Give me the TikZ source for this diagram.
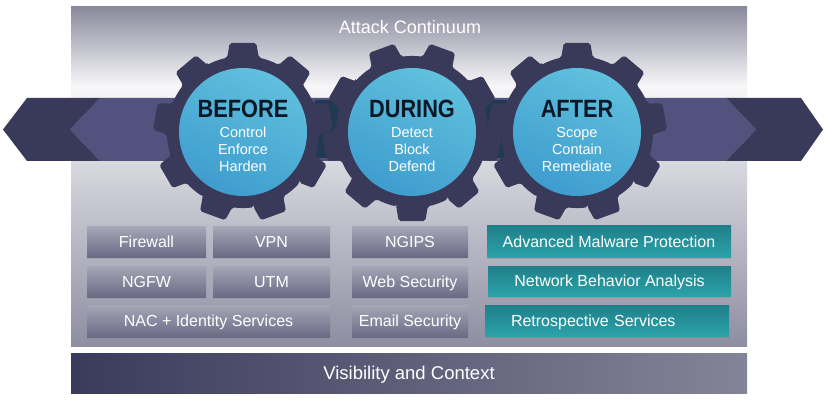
\documentclass[tikz,border=0pt]{standalone}
\usepackage{fontspec}
\setmainfont{Liberation Sans}
\usetikzlibrary{shadows}
\definecolor{gearcol}{HTML}{393959}
\definecolor{bandlight}{HTML}{52527F}
\definecolor{banddark}{HTML}{393959}
\definecolor{tealdark}{HTML}{1F3A52}
\definecolor{paneltop}{HTML}{8A8A9D}
\definecolor{panelwhite}{HTML}{F7F7F9}
\definecolor{panelmid}{HTML}{D2D2DA}
\definecolor{panelbot}{HTML}{8E8EA2}
\definecolor{circtop}{HTML}{60C0DD}
\definecolor{circbot}{HTML}{3E9DCE}
\definecolor{headtext}{HTML}{0C1826}
\definecolor{boxtop}{HTML}{A6A6B7}
\definecolor{boxbot}{HTML}{6A6A85}
\definecolor{tealtop}{HTML}{1F7F89}
\definecolor{tealbot}{HTML}{2CA2A9}
\definecolor{barL}{HTML}{3A3A5C}
\definecolor{barR}{HTML}{848498}
\newcommand\gearshape[3]{%
  \begin{scope}[shift={(#1)}, rotate=#2]
    \fill[gearcol, rounded corners=2pt] (78:76pt)
      \foreach \a in {90,130,...,410} {
        -- ({\a-12}:76pt) -- ({\a-8.5}:90pt) -- ({\a+8.5}:90pt) -- ({\a+12}:76pt)
        arc[start angle={\a+12}, end angle={\a+28}, radius=76pt]
      } -- cycle;
  \end{scope}
  \shade[top color=circtop, bottom color=circbot, shading angle=-25] (#1) circle[radius=64pt];
}
\begin{document}
\begin{tikzpicture}[x=1pt,y=-1pt,
  graybox/.style={top color=boxtop, bottom color=boxbot, text=white,
    font=\fontsize{16}{19}\selectfont, text height=11.5pt, text depth=0pt,
    inner sep=0pt, drop shadow={opacity=0.2, shadow xshift=0pt, shadow yshift=-1.5pt}},
  tealbox/.style={top color=tealtop, bottom color=tealbot, text=white,
    font=\fontsize{16}{19}\selectfont, text height=11.5pt, text depth=0pt,
    inner sep=0pt, minimum width=244pt, minimum height=31pt,
    drop shadow={opacity=0.3, shadow xshift=0pt, shadow yshift=-1.5pt}},
  headlbl/.style={anchor=base, text=headtext, font=\fontsize{25}{28}\bfseries\selectfont, xscale=0.87},
  sublbl/.style={anchor=base, text=white, font=\fontsize{14.5}{17}\selectfont},
]
\useasboundingbox (0,0) rectangle (828,401);
% panel background
\shade[top color=paneltop, bottom color=panelwhite] (71,7) rectangle (747,86);
\shade[top color=panelwhite, middle color=panelmid, bottom color=panelbot] (71,85.5) rectangle (747,346);
\node[text=white, anchor=base, font=\fontsize{18}{21}\selectfont] (title) at (410,34) {Attack Continuum};
% band
\fill[bandlight] (100,98) -- (726,98) -- (756,129.5) -- (726,161) -- (100,161) -- (70,129.5) -- cycle;
\fill[banddark] (27,98) -- (100,98) -- (70,129.5) -- (100,161) -- (27,161) -- (3,129.5) -- cycle;
\fill[banddark] (726,98) -- (801,98) -- (823,129.5) -- (801,161) -- (726,161) -- (756,129.5) -- cycle;
\fill[tealdark] (315,100) rectangle (340,158);
\fill[tealdark] (482,100) rectangle (507,158);
% gears
\coordinate (gb) at (243,132);
\coordinate (gd) at (412,132);
\coordinate (ga) at (577,132);
\gearshape{gb}{0}{}
\gearshape{gd}{20}{}
\gearshape{ga}{0}{}
\node[headlbl] (before) at (243,118) {BEFORE};
\node[sublbl] (b1) at (243,138) {Control};
\node[sublbl] (b2) at (243,155) {Enforce};
\node[sublbl] (b3) at (243,172) {Harden};
\node[headlbl] (during) at (412,118) {DURING};
\node[sublbl] (d1) at (412,138) {Detect};
\node[sublbl] (d2) at (412,155) {Block};
\node[sublbl] (d3) at (412,172) {Defend};
\node[headlbl] (after) at (577,118) {AFTER};
\node[sublbl] (a1) at (577,138) {Scope};
\node[sublbl] (a2) at (577,155) {Contain};
\node[sublbl] (a3) at (577,172) {Remediate};
% boxes
\node[graybox, minimum width=119pt, minimum height=30pt] (fw) at (146.5,242) {Firewall};
\node[graybox, minimum width=117pt, minimum height=30pt] (vpn) at (271.5,242) {VPN};
\node[graybox, minimum width=119pt, minimum height=31pt] (ngfw) at (146.5,281.5) {NGFW};
\node[graybox, minimum width=117pt, minimum height=31pt] (utm) at (271.5,281.5) {UTM};
\node[graybox, minimum width=243pt, minimum height=32pt] (nac) at (208.5,321) {NAC + Identity Services};
\node[graybox, minimum width=116pt, minimum height=30pt] (ngips) at (410,242) {NGIPS};
\node[graybox, minimum width=116pt, minimum height=31pt] (web) at (410,281.5) {Web Security};
\node[graybox, minimum width=116pt, minimum height=32pt] (email) at (410,321) {Email Security};
\node[tealbox] (amp) at (609,241.5) {Advanced Malware Protection};
\node[tealbox, minimum width=243pt, minimum height=30pt] (nba) at (609.5,281) {Network Behavior Analysis};
\node[tealbox, text width=192pt, align=left, inner xsep=26pt] (retro) at (607,320.5) {Retrospective Services};
% bottom bar
\node[left color=barL, right color=barR, minimum width=676pt, minimum height=40pt, inner sep=0pt,
  text=white, font=\fontsize{18.5}{21}\selectfont, text height=13pt, text depth=0pt] (vis) at (409,373) {Visibility and Context};
\end{tikzpicture}
\end{document}
